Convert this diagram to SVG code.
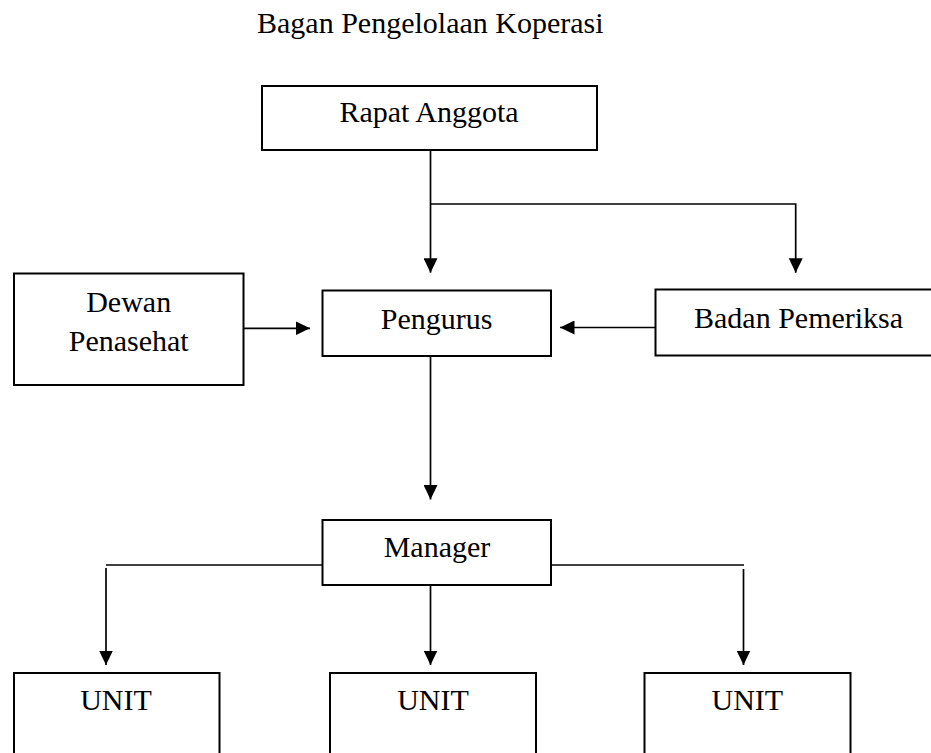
<svg xmlns="http://www.w3.org/2000/svg" width="931" height="753" viewBox="0 0 931 753">
<defs>
<style>
.box{fill:#fff;stroke:#000;stroke-width:2}
.t{font-family:"Liberation Serif","Times New Roman",serif;font-size:30px;fill:#000}
.c{text-anchor:middle}
.ln{fill:none;stroke:#000;stroke-width:1.7}
</style>
<marker id="ah" markerUnits="userSpaceOnUse" markerWidth="15" markerHeight="14" refX="14.5" refY="7" orient="auto" viewBox="0 0 15 14">
<path d="M0,0 L14.5,7 L0,14 z" fill="#000"/>
</marker>
</defs>
<rect width="931" height="753" fill="#fff"/>
<text id="title" class="t" x="257" y="33">Bagan Pengelolaan Koperasi</text>
<g id="connectors">
<path class="ln" d="M430.5 150 V272.7" marker-end="url(#ah)"/>
<path class="ln" d="M430.5 204 H795.7 V272.7" marker-end="url(#ah)"/>
<path class="ln" d="M243 328.3 H310" marker-end="url(#ah)"/>
<path class="ln" d="M655 327.5 H560" marker-end="url(#ah)"/>
<path class="ln" d="M430.5 356 V499.5" marker-end="url(#ah)"/>
<path class="ln" d="M322 565 H106"/>
<path class="ln" d="M106 568 V665" marker-end="url(#ah)"/>
<path class="ln" d="M551 565 H744"/>
<path class="ln" d="M743.5 569 V665" marker-end="url(#ah)"/>
<path class="ln" d="M430.5 581 V665" marker-end="url(#ah)"/>
</g>
<g id="rapat">
<rect class="box" x="262" y="86" width="335" height="64"/>
<text class="t c" x="429" y="121.5">Rapat Anggota</text>
</g>
<g id="dewan">
<rect class="box" x="14" y="273.5" width="229.5" height="111.5"/>
<text class="t c" x="128.7" y="311.7">Dewan</text>
<text class="t c" x="128.7" y="350.7">Penasehat</text>
</g>
<g id="pengurus">
<rect class="box" x="322.5" y="290.5" width="228.5" height="65.5"/>
<text class="t c" x="436.6" y="329">Pengurus</text>
</g>
<g id="badan">
<rect class="box" x="655.5" y="289.5" width="285" height="66"/>
<text class="t" x="694" y="328">Badan Pemeriksa</text>
</g>
<g id="manager">
<rect class="box" x="322.5" y="520" width="228.5" height="65"/>
<text class="t c" x="437" y="556.7">Manager</text>
</g>
<g id="unit1">
<rect class="box" x="14" y="673" width="205.5" height="100"/>
<text class="t c" x="116" y="710">UNIT</text>
</g>
<g id="unit2">
<rect class="box" x="330" y="673" width="206" height="100"/>
<text class="t c" x="433" y="710">UNIT</text>
</g>
<g id="unit3">
<rect class="box" x="644.5" y="673" width="206" height="100"/>
<text class="t c" x="747.3" y="710">UNIT</text>
</g>
</svg>
